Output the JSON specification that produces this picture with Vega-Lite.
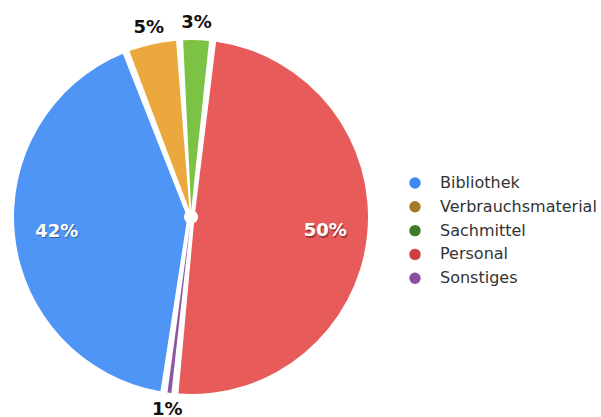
{
  "$schema": "https://vega.github.io/schema/vega-lite/v6.json",
  "width": 382,
  "height": 400,
  "padding": {"left": 0, "top": 17, "right": 219, "bottom": 0},
  "autosize": {"type": "none"},
  "background": "white",
  "config": {"view": {"stroke": null}, "font": "DejaVu Sans"},
  "data": {
    "values": [
      {"category": "Personal", "value": 50, "seq": 1, "label": "50%"},
      {"category": "Sonstiges", "value": 1, "seq": 2, "label": "1%"},
      {"category": "Bibliothek", "value": 42, "seq": 3, "label": "42%"},
      {"category": "Verbrauchsmaterial", "value": 5, "seq": 4, "label": "5%"},
      {"category": "Sachmittel", "value": 3, "seq": 5, "label": "3%"}
    ]
  },
  "encoding": {
    "theta": {"field": "value", "type": "quantitative", "stack": true, "scale": {"range": [0.1222, 6.4054]}},
    "order": {"field": "seq", "type": "quantitative"}
  },
  "layer": [
    {
      "mark": {"type": "arc", "outerRadius": 177, "innerRadius": 7, "padAngle": 0.04},
      "encoding": {
        "fill": {
          "field": "category",
          "type": "nominal",
          "scale": {
            "range": ["#4e95f5", "#e85b5b", "#7cc244", "#8d55a6", "#eba93d"]
          },
          "legend": null
        }
      }
    },
    {
      "mark": {"type": "arc", "outerRadius": 0, "innerRadius": 0},
      "encoding": {
        "color": {
          "field": "category",
          "type": "nominal",
          "scale": {
            "domain": ["Bibliothek", "Verbrauchsmaterial", "Sachmittel", "Personal", "Sonstiges"],
            "range": ["#3d8af7", "#a67a25", "#3f7a29", "#cf3f3f", "#8b4f9f"]
          },
          "legend": {
            "orient": "none",
            "legendX": 407,
            "legendY": 158,
            "title": null,
            "padding": 0,
            "labelFont": "DejaVu Sans",
            "labelFontSize": 16,
            "labelColor": "#333333",
            "labelOffset": 17,
            "symbolType": "circle",
            "symbolSize": 130,
            "symbolStrokeWidth": 0,
            "rowPadding": 7.8
          }
        }
      }
    },
    {
      "mark": {"type": "text", "radius": 135, "fontSize": 18, "fontWeight": "bold", "fill": "#000000", "opacity": 0.35, "dx": 1, "dy": 1.5, "baseline": "middle", "align": "center"},
      "encoding": {
        "text": {"condition": {"test": "datum.value >= 10", "field": "label", "type": "nominal"}, "value": ""}
      }
    },
    {
      "mark": {"type": "text", "radius": 135, "fontSize": 18, "fontWeight": "bold", "fill": "white", "baseline": "middle", "align": "center"},
      "encoding": {
        "text": {"condition": {"test": "datum.value >= 10", "field": "label", "type": "nominal"}, "value": ""}
      }
    },
    {
      "mark": {"type": "text", "radius": 194, "fontSize": 18, "fontWeight": "bold", "fill": "#111111", "baseline": "middle", "align": "center"},
      "encoding": {
        "text": {"condition": {"test": "datum.value < 10", "field": "label", "type": "nominal"}, "value": ""}
      }
    }
  ]
}
